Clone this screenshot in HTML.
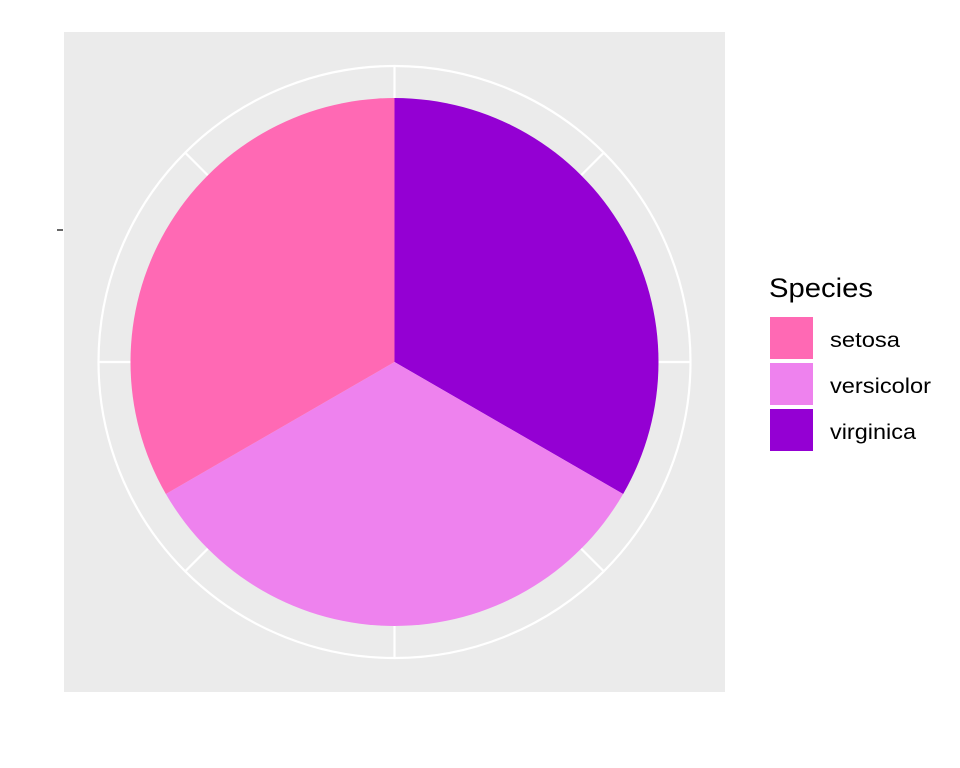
<!DOCTYPE html>
<html><head><meta charset="utf-8"><style>
body{margin:0;background:#fff;}
svg{display:block;font-family:"Liberation Sans",sans-serif;}
</style></head><body>
<svg id="c" width="960" height="768">
<rect x="0" y="0" width="960" height="768" fill="#fff"/>
<rect x="64" y="32" width="661" height="660" fill="#EBEBEB"/>
<g id="grid"></g>
<g id="slices"></g>
<line x1="57" y1="230" x2="63" y2="230" stroke="#333" stroke-width="1.5"/>
<text x="769" y="297" font-size="27" fill="#000" textLength="104" lengthAdjust="spacingAndGlyphs">Species</text>
<g id="legend"></g>
</svg>
<script>
const categories=["setosa","versicolor","virginica"];
const counts=[50,50,50];
const colors=["#FF69B4","#EE82EE","#9400D3"];
const NS="http://www.w3.org/2000/svg";
const cx=394.5,cy=362,r=264,R=296;
const grid=document.getElementById('grid');
function mk(tag,attrs,parent){const e=document.createElementNS(NS,tag);for(const k in attrs)e.setAttribute(k,attrs[k]);parent.appendChild(e);return e;}
for(let i=0;i<8;i++){const a=i*Math.PI/4;
 const l=mk('line',{x1:cx,y1:cy,x2:cx+R*Math.sin(a),y2:cy-R*Math.cos(a),stroke:'#fff','stroke-width':2.2},grid);
 
 }
const circ=mk('circle',{cx:cx,cy:cy,r:R,fill:'none',stroke:'#fff','stroke-width':2.2},grid);


const total=counts.reduce((a,b)=>a+b,0);
const sg=document.getElementById('slices');
let start=0;
for(let j=categories.length-1;j>=0;j--){
 const a0=start/total*2*Math.PI,a1=(start+counts[j])/total*2*Math.PI;start+=counts[j];
 const x0=cx+r*Math.sin(a0),y0=cy-r*Math.cos(a0),x1=cx+r*Math.sin(a1),y1=cy-r*Math.cos(a1);
 const large=(a1-a0)>Math.PI?1:0;
 const p=mk('path',{d:`M${cx},${cy}L${x0},${y0}A${r},${r} 0 ${large} 1 ${x1},${y1}Z`,fill:colors[j]},sg);
 
 
}
const lg=document.getElementById('legend');
const labelWidths=[70,101,86];
categories.forEach((c,i)=>{
 const y=317+i*46;
 const k=mk('rect',{x:770,y:y,width:43,height:42,fill:colors[i]},lg);
 
 
 const t=mk('text',{x:830,y:y+30,'font-size':21,fill:'#000',textLength:labelWidths[i],lengthAdjust:'spacingAndGlyphs'},lg);
 t.textContent=c;
 
 
});
</script>
</body></html>
